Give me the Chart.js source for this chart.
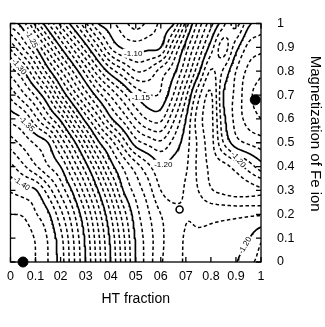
<!DOCTYPE html>
<html>
<head>
<meta charset="utf-8">
<script src="https://cdn.jsdelivr.net/npm/chart.js@4.4.1/dist/chart.umd.min.js"></script>
<style>
  html, body { margin: 0; padding: 0; background: #fff; }
  #chart { display: block; }
</style>
</head>
<body>
<canvas id="chart" width="325" height="327"></canvas>
<script>
// grid of the energy surface
const xGrid = [0, 0.05, 0.1, 0.15, 0.2, 0.25, 0.3, 0.35, 0.4, 0.45, 0.5, 0.55, 0.6, 0.65, 0.7, 0.75, 0.8, 0.85, 0.9, 0.95, 1];
const yGrid = [0, 0.1, 0.2, 0.3, 0.4, 0.5, 0.6, 0.7, 0.8, 0.9, 1];
// one row per yGrid value (bottom to top), one column per xGrid value
const energy = [
  [-1.425, -1.428, -1.420, -1.410, -1.3955, -1.3727, -1.350, -1.325, -1.300, -1.275, -1.250, -1.235, -1.2214, -1.2137, -1.209, -1.2068, -1.2047, -1.2026, -1.2004, -1.1933, -1.186],
  [-1.424, -1.426, -1.419, -1.409, -1.3932, -1.3705, -1.3475, -1.3225, -1.2975, -1.2725, -1.2486, -1.235, -1.2225, -1.2138, -1.2094, -1.209, -1.2085, -1.207, -1.205, -1.2005, -1.192],
  [-1.420, -1.419, -1.411, -1.402, -1.3833, -1.3625, -1.340, -1.315, -1.290, -1.265, -1.2443, -1.2313, -1.220, -1.214, -1.2105, -1.212, -1.2125, -1.2125, -1.2122, -1.2115, -1.211],
  [-1.409, -1.405, -1.401, -1.3852, -1.3667, -1.3476, -1.3238, -1.300, -1.275, -1.250, -1.2363, -1.2244, -1.210, -1.2053, -1.2114, -1.220, -1.229, -1.2323, -1.234, -1.233, -1.231],
  [-1.393, -1.3823, -1.3715, -1.3608, -1.350, -1.3273, -1.3045, -1.280, -1.255, -1.2386, -1.225, -1.2125, -1.2015, -1.204, -1.2086, -1.2225, -1.232, -1.233, -1.226, -1.2155, -1.2045],
  [-1.375, -1.3667, -1.3583, -1.350, -1.3273, -1.3045, -1.2789, -1.2526, -1.235, -1.215, -1.195, -1.187, -1.182, -1.1929, -1.2056, -1.222, -1.2325, -1.210, -1.1945, -1.1886, -1.185],
  [-1.357, -1.350, -1.3328, -1.3155, -1.2974, -1.2711, -1.2457, -1.2239, -1.2022, -1.1867, -1.170, -1.1588, -1.1575, -1.1775, -1.200, -1.225, -1.2325, -1.2033, -1.1867, -1.176, -1.170],
  [-1.337, -1.3228, -1.3085, -1.2889, -1.2611, -1.237, -1.2152, -1.195, -1.1783, -1.1629, -1.1482, -1.1407, -1.1417, -1.160, -1.1875, -1.2167, -1.2313, -1.200, -1.1875, -1.1726, -1.166],
  [-1.315, -1.3014, -1.2786, -1.2545, -1.2318, -1.2091, -1.1864, -1.1636, -1.145, -1.1325, -1.120, -1.1222, -1.1343, -1.1464, -1.1694, -1.1972, -1.221, -1.2084, -1.190, -1.1775, -1.172],
  [-1.2875, -1.2688, -1.250, -1.225, -1.200, -1.1773, -1.1545, -1.1318, -1.1091, -1.0983, -1.0956, -1.0972, -1.100, -1.1278, -1.155, -1.180, -1.2047, -1.2245, -1.204, -1.1871, -1.183],
  [-1.255, -1.2444, -1.2167, -1.1905, -1.1667, -1.1435, -1.1217, -1.100, -1.093, -1.084, -1.075, -1.083, -1.092, -1.0988, -1.1333, -1.1636, -1.1864, -1.2069, -1.224, -1.2025, -1.196]
];

// contour levels in hundredths: -1.43 ... -1.07, every fifth one is solid
const levelsHundredths = [];
for (let k = -143; k <= -107; k++) levelsHundredths.push(k);

const xTickLabels = ['0', '0.1', '02', '03', '04', '05', '06', '07', '0.8', '0.9', '1'];
const yTickLabels = ['0', '0.1', '0.2', '0.3', '0.4', '0.5', '0.6', '0.7', '0.8', '0.9', '1'];

const minima = [{x: 0.05, y: 0}, {x: 0.977, y: 0.68}];
const saddle = [{x: 0.675, y: 0.22}];

const labelText  = ['-1.25', '-1.30', '-1.35', '-1.40', '-1.10', '-1.15', '-1.20', '-1.20', '-1.20'];
const labelX     = [0.085, 0.035, 0.065, 0.045, 0.49, 0.52, 0.61, 0.91, 0.935];
const labelY     = [0.935, 0.82, 0.58, 0.33, 0.875, 0.69, 0.41, 0.43, 0.07];
const labelAngle = [62, 50, 45, 35, 0, 0, 0, 50, -60];

const FONT = '"Liberation Sans", Arial, Helvetica, sans-serif';

// smooth (Catmull-Rom) lookup into the grid
function gridValue(i, j) {
  const nx = xGrid.length, ny = yGrid.length;
  if (i < 0) return 2 * gridValue(0, j) - gridValue(1, j);
  if (i > nx - 1) return 2 * gridValue(nx - 1, j) - gridValue(nx - 2, j);
  if (j < 0) return 2 * gridValue(i, 0) - gridValue(i, 1);
  if (j > ny - 1) return 2 * gridValue(i, ny - 1) - gridValue(i, ny - 2);
  return energy[j][i];
}
function cr(p0, p1, p2, p3, t) {
  return p1 + 0.5 * t * (p2 - p0 + t * (2 * p0 - 5 * p1 + 4 * p2 - p3 + t * (3 * (p1 - p2) + p3 - p0)));
}
function energyAt(x, y) {
  const dx = xGrid[1] - xGrid[0], dy = yGrid[1] - yGrid[0];
  const fi = x / dx, fj = y / dy;
  const i = Math.min(Math.floor(fi + 1e-9), xGrid.length - 2);
  const j = Math.min(Math.floor(fj + 1e-9), yGrid.length - 2);
  const tx = fi - i, ty = fj - j;
  const col = [];
  for (let m = -1; m <= 2; m++) {
    col.push(cr(gridValue(i - 1, j + m), gridValue(i, j + m), gridValue(i + 1, j + m), gridValue(i + 2, j + m), tx));
  }
  return cr(col[0], col[1], col[2], col[3], ty);
}

const N = 120;
const fx = [], fy = [];
for (let k = 0; k <= N; k++) { fx.push(k / N); fy.push(k / N); }
const fine = fy.map(y => fx.map(x => energyAt(x, y)));

// marching squares, segments chained into polylines
function contourLines(level) {
  const pts = {};
  const segs = [];
  function edge(key, x1, y1, v1, x2, y2, v2) {
    if (!pts[key]) {
      const t = (level - v1) / (v2 - v1);
      pts[key] = {x: x1 + t * (x2 - x1), y: y1 + t * (y2 - y1)};
    }
    return key;
  }
  for (let j = 0; j < N; j++) {
    for (let i = 0; i < N; i++) {
      const a = fine[j][i], b = fine[j][i + 1], c = fine[j + 1][i + 1], d = fine[j + 1][i];
      const sa = a >= level, sb = b >= level, sc = c >= level, sd = d >= level;
      const bottom = sa !== sb ? edge('h' + i + '_' + j, fx[i], fy[j], a, fx[i + 1], fy[j], b) : null;
      const right = sb !== sc ? edge('v' + (i + 1) + '_' + j, fx[i + 1], fy[j], b, fx[i + 1], fy[j + 1], c) : null;
      const top = sd !== sc ? edge('h' + i + '_' + (j + 1), fx[i], fy[j + 1], d, fx[i + 1], fy[j + 1], c) : null;
      const left = sa !== sd ? edge('v' + i + '_' + j, fx[i], fy[j], a, fx[i], fy[j + 1], d) : null;
      const list = [bottom, right, top, left].filter(e => e !== null);
      if (list.length === 2) segs.push(list);
      else if (list.length === 4) {
        const center = (a + b + c + d) / 4 >= level;
        if (center === sa) { segs.push([bottom, right]); segs.push([top, left]); }
        else { segs.push([left, bottom]); segs.push([right, top]); }
      }
    }
  }
  const byKey = {};
  segs.forEach((s, k) => s.forEach(key => { (byKey[key] = byKey[key] || []).push(k); }));
  const used = new Array(segs.length).fill(false);
  const lines = [];
  for (let k = 0; k < segs.length; k++) {
    if (used[k]) continue;
    used[k] = true;
    const chain = [segs[k][0], segs[k][1]];
    for (let pass = 0; pass < 2; pass++) {
      for (;;) {
        const end = chain[chain.length - 1];
        const next = (byKey[end] || []).find(n => !used[n]);
        if (next === undefined) break;
        used[next] = true;
        chain.push(segs[next][0] === end ? segs[next][1] : segs[next][0]);
      }
      chain.reverse();
    }
    lines.push(chain.map(key => pts[key]));
  }
  return lines;
}

const contourSets = [];
levelsHundredths.forEach(h => {
  const solid = h % 5 === 0;
  contourLines(h / 100).forEach(line => {
    if (line.length < 2) return;
    contourSets.push({
      data: line,
      showLine: true,
      borderColor: '#000',
      borderWidth: solid ? 1.7 : 1.5,
      borderDash: solid ? [] : [3.5, 2.5],
      pointRadius: 0,
      pointHitRadius: 0,
      fill: false,
      tension: 0
    });
  });
});

const frame = {
  id: 'frame',
  beforeDatasetsDraw(chart) {
    const {ctx, chartArea: a, scales: {x, y}} = chart;
    ctx.save();
    ctx.strokeStyle = '#000';
    ctx.lineWidth = 1.3;
    ctx.strokeRect(a.left, a.top, a.right - a.left, a.bottom - a.top);
    ctx.beginPath();
    x.ticks.forEach(t => {
      const p = x.getPixelForValue(t.value);
      ctx.moveTo(p, a.bottom); ctx.lineTo(p, a.bottom - 5);
      ctx.moveTo(p, a.top); ctx.lineTo(p, a.top + 5);
    });
    y.ticks.forEach(t => {
      const p = y.getPixelForValue(t.value);
      ctx.moveTo(a.left, p); ctx.lineTo(a.left + 5, p);
      ctx.moveTo(a.right, p); ctx.lineTo(a.right - 5, p);
    });
    ctx.stroke();
    ctx.restore();
  }
};

const contourLabels = {
  id: 'contourLabels',
  afterDatasetsDraw(chart) {
    const {ctx, chartArea: a, scales: {x, y}} = chart;
    ctx.save();
    ctx.font = '8px ' + FONT;
    ctx.textAlign = 'center';
    ctx.textBaseline = 'middle';
    labelText.forEach((t, k) => {
      ctx.save();
      ctx.translate(x.getPixelForValue(labelX[k]), y.getPixelForValue(labelY[k]));
      ctx.rotate(labelAngle[k] * Math.PI / 180);
      const w = ctx.measureText(t).width;
      ctx.fillStyle = '#fff';
      ctx.fillRect(-w / 2 - 1.5, -4.5, w + 3, 9);
      ctx.fillStyle = '#000';
      ctx.fillText(t, 0, 0.5);
      ctx.restore();
    });
    // right-hand axis title, reading top to bottom
    ctx.font = '15px ' + FONT;
    ctx.translate(a.right + 54, (a.top + a.bottom) / 2 - 9);
    ctx.rotate(Math.PI / 2);
    ctx.fillStyle = '#000';
    ctx.fillText('Magnetization of Fe ion', 0, 0);
    ctx.restore();
  }
};

new Chart(document.getElementById('chart'), {
  type: 'scatter',
  data: {
    datasets: [
      {data: minima, showLine: false, pointRadius: 5, pointBackgroundColor: '#000', pointBorderColor: '#000', pointBorderWidth: 1, clip: false},
      {data: saddle, showLine: false, pointRadius: 3.5, pointBackgroundColor: '#fff', pointBorderColor: '#000', pointBorderWidth: 1.6, clip: false},
      ...contourSets
    ]
  },
  options: {
    responsive: false,
    animation: false,
    devicePixelRatio: 1,
    events: [],
    layout: {padding: {left: 5, top: 7, right: 0, bottom: 0}},
    plugins: {legend: {display: false}, tooltip: {enabled: false}},
    scales: {
      x: {
        type: 'linear', min: 0, max: 1, position: 'bottom',
        afterFit: s => { s.height = 65; },
        grid: {display: false, drawTicks: false}, border: {display: false},
        ticks: {
          stepSize: 0.1, autoSkip: false, maxRotation: 0, padding: 7,
          color: '#000', font: {family: FONT, size: 12.5},
          callback: (v, i) => xTickLabels[i]
        },
        title: {display: true, text: 'HT fraction', color: '#000', font: {family: FONT, size: 14}, padding: {top: 0, bottom: 19}}
      },
      y: {
        type: 'linear', min: 0, max: 1, position: 'right',
        afterFit: s => { s.width = 64; },
        grid: {display: false, drawTicks: false}, border: {display: false},
        ticks: {
          stepSize: 0.1, autoSkip: false, padding: 16,
          color: '#000', font: {family: FONT, size: 12.5},
          callback: (v, i) => yTickLabels[i]
        }
      }
    }
  },
  plugins: [frame, contourLabels]
});
</script>
</body>
</html>
